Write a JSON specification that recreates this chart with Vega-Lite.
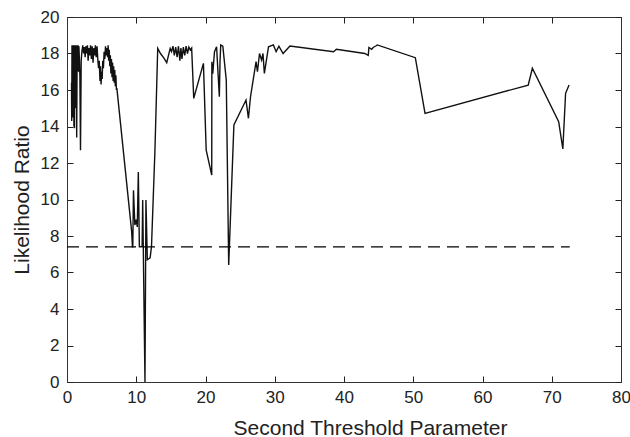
{
  "$schema": "https://vega.github.io/schema/vega-lite/v6.json",
  "autosize": {"type": "none"},
  "width": 554,
  "height": 365,
  "padding": {"left": 67, "top": 17, "right": 9, "bottom": 55},
  "background": "white",
  "config": {
    "view": {"stroke": "#333", "strokeWidth": 1},
    "font": "Liberation Sans",
    "axis": {
      "domainColor": "#333",
      "domainWidth": 1,
      "tickColor": "#222",
      "tickSize": -6,
      "tickWidth": 1,
      "grid": false,
      "labelFont": "Liberation Sans",
      "labelFontSize": 17,
      "labelColor": "#222",
      "titleFont": "Liberation Sans",
      "titleFontSize": 21,
      "titleFontWeight": "normal",
      "titleColor": "#222"
    }
  },
  "datasets": {
    "curve": [
      {"x": 0.65, "y": 16.4}, {"x": 0.68, "y": 14.3}, {"x": 0.72, "y": 18.45}, {"x": 0.76, "y": 15.2},
      {"x": 0.80, "y": 18.45}, {"x": 0.84, "y": 14.5}, {"x": 0.88, "y": 18.3}, {"x": 0.92, "y": 16.0},
      {"x": 0.96, "y": 18.45}, {"x": 1.00, "y": 14.0}, {"x": 1.04, "y": 17.8}, {"x": 1.08, "y": 13.9},
      {"x": 1.12, "y": 18.45}, {"x": 1.16, "y": 16.1}, {"x": 1.20, "y": 18.45}, {"x": 1.24, "y": 15.0},
      {"x": 1.28, "y": 18.2}, {"x": 1.32, "y": 17.0}, {"x": 1.36, "y": 18.45}, {"x": 1.40, "y": 13.4},
      {"x": 1.44, "y": 16.5}, {"x": 1.48, "y": 18.45}, {"x": 1.54, "y": 17.3}, {"x": 1.60, "y": 18.45},
      {"x": 1.66, "y": 17.0}, {"x": 1.72, "y": 18.4}, {"x": 1.80, "y": 17.6}, {"x": 1.86, "y": 16.8},
      {"x": 1.95, "y": 12.7}, {"x": 2.05, "y": 17.6}, {"x": 2.15, "y": 18.1}, {"x": 2.28, "y": 18.45},
      {"x": 2.40, "y": 18.0}, {"x": 2.50, "y": 18.35}, {"x": 2.62, "y": 17.8}, {"x": 2.72, "y": 18.4},
      {"x": 2.85, "y": 18.0}, {"x": 2.95, "y": 18.45}, {"x": 3.05, "y": 17.6}, {"x": 3.15, "y": 18.3},
      {"x": 3.28, "y": 17.9}, {"x": 3.40, "y": 18.45}, {"x": 3.52, "y": 17.7}, {"x": 3.64, "y": 18.4},
      {"x": 3.76, "y": 17.5}, {"x": 3.88, "y": 18.3}, {"x": 4.00, "y": 17.9}, {"x": 4.10, "y": 18.45},
      {"x": 4.22, "y": 17.8}, {"x": 4.34, "y": 18.4}, {"x": 4.46, "y": 17.6}, {"x": 4.56, "y": 17.2},
      {"x": 4.66, "y": 17.6}, {"x": 4.76, "y": 16.5}, {"x": 4.84, "y": 17.3}, {"x": 4.92, "y": 16.3},
      {"x": 5.00, "y": 17.0}, {"x": 5.08, "y": 16.6}, {"x": 5.16, "y": 17.6}, {"x": 5.26, "y": 17.2},
      {"x": 5.36, "y": 18.1}, {"x": 5.46, "y": 17.7}, {"x": 5.56, "y": 18.4}, {"x": 5.66, "y": 17.9},
      {"x": 5.76, "y": 18.3}, {"x": 5.86, "y": 17.8}, {"x": 5.94, "y": 18.45}, {"x": 6.02, "y": 17.6},
      {"x": 6.10, "y": 18.2}, {"x": 6.18, "y": 17.3}, {"x": 6.26, "y": 17.9}, {"x": 6.34, "y": 16.9},
      {"x": 6.42, "y": 17.7}, {"x": 6.50, "y": 16.7}, {"x": 6.58, "y": 17.5}, {"x": 6.66, "y": 16.5},
      {"x": 6.74, "y": 17.3}, {"x": 6.82, "y": 16.4}, {"x": 6.90, "y": 17.1}, {"x": 6.98, "y": 16.2},
      {"x": 7.06, "y": 16.8}, {"x": 7.14, "y": 16.0}, {"x": 7.20, "y": 16.1},
      {"x": 9.34, "y": 8.24}, {"x": 9.45, "y": 7.41}, {"x": 9.50, "y": 7.41}, {"x": 9.60, "y": 10.5},
      {"x": 9.80, "y": 8.6}, {"x": 10.0, "y": 8.9}, {"x": 10.15, "y": 8.5}, {"x": 10.3, "y": 11.5},
      {"x": 10.45, "y": 7.41}, {"x": 10.85, "y": 7.41}, {"x": 10.93, "y": 9.97}, {"x": 11.26, "y": 0.0},
      {"x": 11.4, "y": 9.97}, {"x": 11.6, "y": 6.7}, {"x": 12.0, "y": 6.8}, {"x": 12.2, "y": 7.41},
      {"x": 12.7, "y": 12.7}, {"x": 13.1, "y": 18.28}, {"x": 13.5, "y": 18.0}, {"x": 14.0, "y": 17.75},
      {"x": 14.4, "y": 17.5}, {"x": 14.9, "y": 18.28}, {"x": 15.1, "y": 18.1}, {"x": 15.3, "y": 18.4},
      {"x": 15.5, "y": 17.9}, {"x": 15.7, "y": 18.35}, {"x": 15.9, "y": 17.8}, {"x": 16.1, "y": 18.4},
      {"x": 16.3, "y": 17.6}, {"x": 16.45, "y": 18.3}, {"x": 16.6, "y": 17.7}, {"x": 16.8, "y": 18.35},
      {"x": 17.0, "y": 17.9}, {"x": 17.2, "y": 18.4}, {"x": 17.4, "y": 18.0}, {"x": 17.6, "y": 18.35},
      {"x": 17.8, "y": 18.2}, {"x": 18.0, "y": 18.3}, {"x": 18.3, "y": 15.54}, {"x": 19.7, "y": 17.46},
      {"x": 20.1, "y": 12.7}, {"x": 20.9, "y": 11.34}, {"x": 20.92, "y": 17.55}, {"x": 21.05, "y": 16.9},
      {"x": 21.15, "y": 17.4}, {"x": 21.3, "y": 18.1}, {"x": 21.6, "y": 18.37}, {"x": 21.8, "y": 17.0},
      {"x": 22.0, "y": 15.63}, {"x": 22.1, "y": 17.6}, {"x": 22.2, "y": 18.47}, {"x": 22.5, "y": 18.4},
      {"x": 23.0, "y": 16.55}, {"x": 23.35, "y": 6.41}, {"x": 24.1, "y": 14.08}, {"x": 25.85, "y": 15.45},
      {"x": 26.2, "y": 14.45}, {"x": 26.5, "y": 15.63}, {"x": 27.3, "y": 17.55}, {"x": 27.5, "y": 17.0},
      {"x": 27.8, "y": 18.0}, {"x": 28.1, "y": 17.64}, {"x": 28.3, "y": 18.0}, {"x": 28.5, "y": 16.91},
      {"x": 29.1, "y": 18.37}, {"x": 29.8, "y": 18.47}, {"x": 30.2, "y": 18.1}, {"x": 30.6, "y": 18.4},
      {"x": 31.2, "y": 18.0}, {"x": 32.0, "y": 18.33}, {"x": 32.2, "y": 18.41}, {"x": 38.5, "y": 18.1},
      {"x": 38.9, "y": 18.23}, {"x": 43.0, "y": 18.0}, {"x": 43.5, "y": 17.9}, {"x": 43.6, "y": 18.33},
      {"x": 44.0, "y": 18.23}, {"x": 44.2, "y": 18.33}, {"x": 44.6, "y": 18.41}, {"x": 44.8, "y": 18.47},
      {"x": 50.3, "y": 17.77}, {"x": 51.7, "y": 14.72}, {"x": 66.6, "y": 16.27}, {"x": 67.2, "y": 17.19},
      {"x": 71.0, "y": 14.26}, {"x": 71.6, "y": 12.77}, {"x": 72.0, "y": 15.82}, {"x": 72.5, "y": 16.27}
    ],
    "threshold": [
      {"x": 0, "y": 7.4},
      {"x": 72.6, "y": 7.4}
    ]
  },
  "layer": [
    {
      "data": {"name": "curve"},
      "mark": {"type": "line", "color": "#111", "strokeWidth": 1.4, "clip": true},
      "encoding": {
        "x": {
          "field": "x", "type": "quantitative",
          "scale": {"domain": [0, 80], "nice": false, "zero": false},
          "axis": {"orient": "bottom", "title": "Second Threshold Parameter", "values": [0, 10, 20, 30, 40, 50, 60, 70, 80], "labelPadding": 13, "titlePadding": 12, "titleX": 303, "titleAlign": "center", "labelFlush": false}
        },
        "y": {
          "field": "y", "type": "quantitative",
          "scale": {"domain": [0, 20], "nice": false, "zero": false},
          "axis": {"orient": "left", "title": "Likelihood Ratio", "values": [0, 2, 4, 6, 8, 10, 12, 14, 16, 18, 20], "labelPadding": 14, "titlePadding": 8, "labelFlush": false}
        }
      }
    },
    {
      "data": {"name": "threshold"},
      "mark": {"type": "line", "color": "#000", "strokeWidth": 1.2, "strokeDash": [12, 7]},
      "encoding": {
        "x": {
          "field": "x", "type": "quantitative",
          "scale": {"domain": [0, 80], "nice": false, "zero": false},
          "axis": {"orient": "top", "title": null, "labels": false, "values": [0, 10, 20, 30, 40, 50, 60, 70, 80]}
        },
        "y": {
          "field": "y", "type": "quantitative",
          "scale": {"domain": [0, 20], "nice": false, "zero": false},
          "axis": {"orient": "right", "title": null, "labels": false, "values": [0, 2, 4, 6, 8, 10, 12, 14, 16, 18, 20]}
        }
      }
    }
  ],
  "resolve": {"axis": {"x": "independent", "y": "independent"}}
}
